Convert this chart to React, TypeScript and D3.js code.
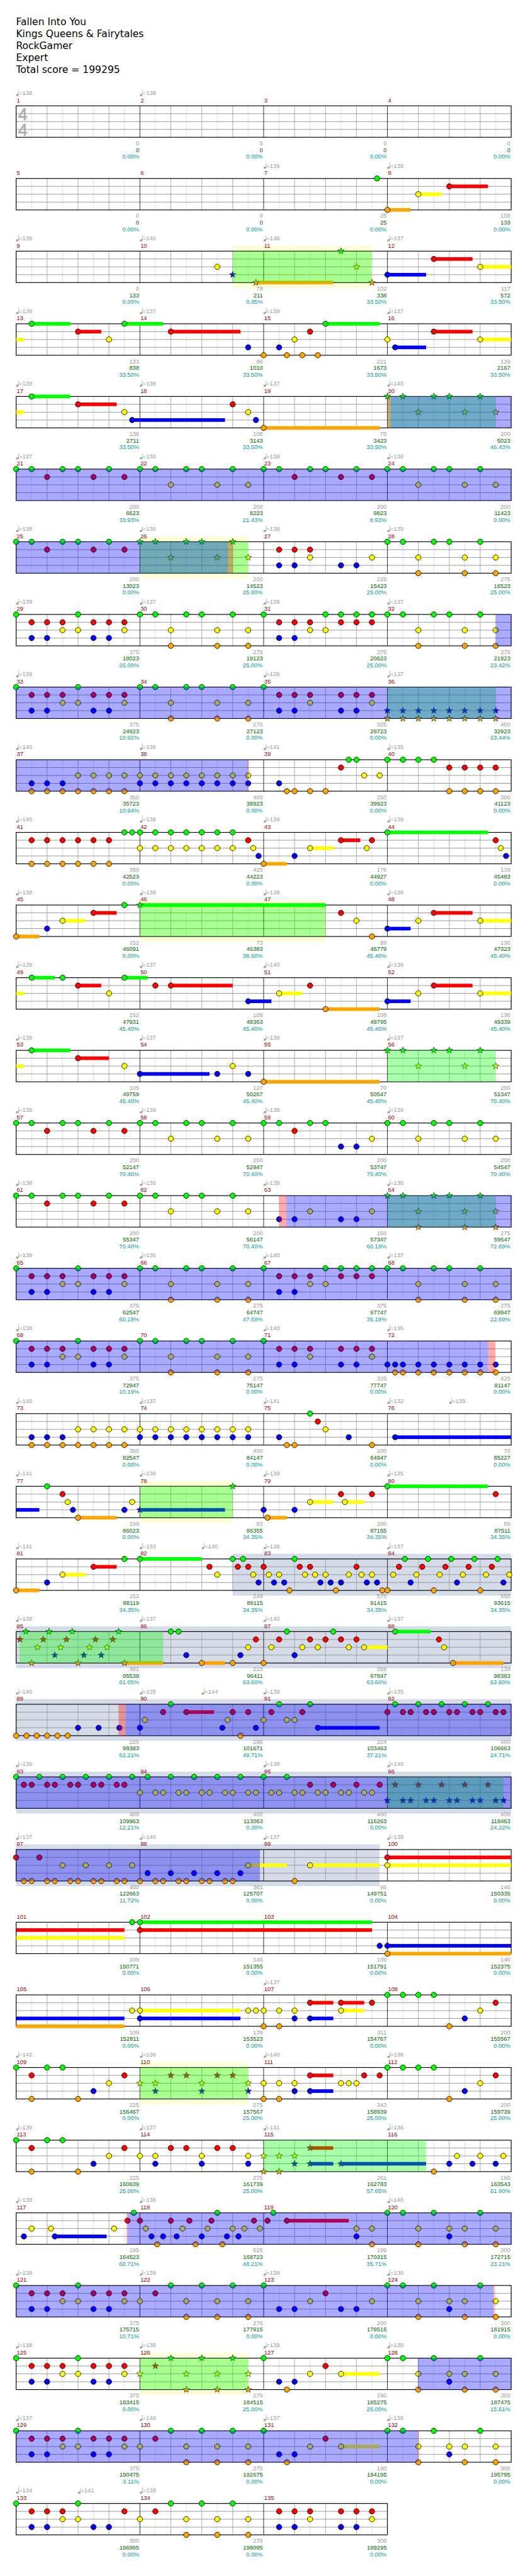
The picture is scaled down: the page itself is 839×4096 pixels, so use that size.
import React from "react";
import * as d3 from "d3";

const headerLines = ["Fallen Into You", "Kings Queens & Fairytales", "RockGamer", "Expert", "Total score = 199295"];

// [measure, eighth within measure, bpm]
const tempoMarks: [number, number, number][] = [
  [1, 0, 138], [2, 0, 138], [7, 0, 139], [8, 0, 139],
  [9, 0, 139], [10, 0, 140], [11, 0, 136], [12, 0, 137],
  [13, 0, 139], [14, 0, 137], [15, 0, 139], [16, 0, 137],
  [17, 0, 139], [18, 0, 138], [19, 0, 137], [20, 0, 140],
  [21, 0, 137], [22, 0, 138], [23, 0, 138], [24, 0, 138],
  [25, 0, 138], [26, 0, 136], [27, 0, 138], [28, 0, 139],
  [29, 0, 139], [30, 0, 137], [31, 0, 139], [32, 0, 137],
  [33, 0, 139], [35, 0, 138], [36, 0, 137],
  [37, 0, 140], [38, 0, 136], [39, 0, 141], [40, 0, 135],
  [41, 0, 140], [42, 0, 136], [43, 0, 139], [44, 0, 139],
  [45, 0, 138], [46, 0, 138], [47, 0, 138], [48, 0, 136],
  [49, 0, 139], [50, 0, 137], [51, 0, 140], [52, 0, 136],
  [53, 0, 139], [54, 0, 137], [55, 0, 139], [56, 0, 137],
  [57, 0, 138], [58, 0, 139], [59, 0, 138], [60, 0, 139],
  [61, 0, 138], [62, 0, 136], [63, 0, 139], [64, 0, 136],
  [65, 0, 139], [66, 0, 136], [67, 0, 140], [68, 0, 137],
  [69, 0, 138], [71, 0, 140], [72, 0, 136],
  [73, 0, 140], [74, 0, 137], [75, 0, 141], [76, 0, 132], [76, 4, 139],
  [77, 0, 141], [78, 0, 136], [79, 0, 139], [80, 0, 135],
  [81, 0, 141], [82, 0, 133], [82, 4, 140], [83, 0, 138], [84, 0, 137],
  [85, 0, 139], [86, 0, 137], [87, 0, 140], [88, 0, 137],
  [89, 0, 140], [90, 0, 135], [90, 4, 144], [91, 0, 139], [92, 0, 135],
  [93, 0, 138], [95, 0, 138], [96, 0, 140],
  [97, 0, 137], [98, 0, 140], [99, 0, 137], [100, 0, 138],
  [107, 0, 137],
  [109, 0, 142], [110, 0, 136], [111, 0, 140], [112, 0, 136],
  [113, 0, 139], [114, 0, 137], [115, 0, 141], [116, 0, 136],
  [117, 0, 139], [118, 0, 136], [120, 0, 140],
  [121, 0, 138], [122, 0, 139], [123, 0, 138], [124, 0, 136],
  [125, 0, 138], [126, 0, 138], [127, 0, 139], [128, 0, 138],
  [129, 0, 137], [130, 0, 140], [131, 0, 137], [132, 0, 139],
  [133, 0, 134], [133, 4, 141], [134, 0, 139],
];

const measureScores = [
  0, 0, 0, 0, 0, 0, 25, 108, 0, 78, 102, 117, 133, 86, 221, 139,
  136, 108, 70, 200, 200, 200, 200, 200, 200, 200, 225, 275, 375, 275, 375, 275,
  375, 275, 325, 400, 350, 400, 250, 300, 350, 425, 176, 139, 152, 73, 99, 136,
  152, 108, 108, 136, 105, 127, 70, 200, 200, 200, 200, 200, 200, 200, 150, 275,
  375, 275, 375, 275, 375, 275, 325, 425, 350, 400, 200, 70, 199, 83, 200, 89,
  152, 249, 575, 550, 481, 218, 359, 134, 225, 286, 224, 400, 400, 400, 400, 400,
  400, 381, 86, 146, 109, 146, 109, 146, 109, 178, 311, 200, 225, 275, 343, 200,
  225, 275, 261, 190, 195, 525, 199, 300, 375, 275, 200, 300, 375, 275, 190, 300,
  375, 275, 190, 300, 300, 275, 300,
];

const runningTotals = [
  0, 0, 0, 0, 0, 0, 25, 133, 133, 211, 338, 572, 838, 1010, 1673, 2167,
  2711, 3143, 3423, 5023, 6623, 8223, 9823, 11423, 13023, 14523, 15423, 16523, 18023, 19123, 20623, 21923,
  24923, 27123, 29723, 32923, 35723, 38923, 39923, 41123, 42523, 44223, 44927, 45483, 46091, 46383, 46779, 47323,
  47931, 48363, 48795, 49339, 49759, 50267, 50547, 51347, 52147, 52947, 53747, 54547, 55347, 56147, 57347, 59547,
  62547, 64747, 67747, 69947, 72947, 75147, 77747, 81147, 82547, 84147, 84947, 85227, 86023, 86355, 87155, 87511,
  88119, 89115, 91415, 93615, 95539, 96411, 97847, 98383, 99383, 101671, 103463, 106663, 109963, 113063, 116263, 119463,
  122663, 125707, 149751, 150335, 150771, 151355, 151791, 152375, 152811, 153523, 154767, 155567, 156467, 157567, 158939, 159739,
  160639, 161739, 162783, 163543, 164523, 168723, 170315, 172715, 175715, 177915, 179515, 181915, 183415, 184515, 185275, 187475,
  190475, 192675, 194195, 195795, 196995, 198095, 199295,
];

const spMeter = [
  0, 0, 0, 0, 0, 0, 0, 0, 0, 0.85, 33.5, 33.5, 33.5, 33.5, 33.5, 33.5,
  33.5, 33.5, 33.5, 46.43, 33.93, 21.43, 8.93, 0, 0, 25, 25, 25, 25, 25, 25, 23.42,
  10.92, 0, 0, 23.44, 10.94, 0, 0, 0, 0, 0, 0, 0, 0, 38.6, 45.4, 45.4,
  45.4, 45.4, 45.4, 45.4, 45.4, 45.4, 45.4, 70.4, 70.4, 70.4, 70.4, 70.4, 70.4, 70.4, 60.19, 72.69,
  60.19, 47.69, 35.19, 22.69, 10.19, 0, 0, 0, 0, 0, 0, 0, 0, 34.35, 34.35, 34.35,
  34.35, 34.35, 34.35, 34.35, 61.05, 63.6, 63.6, 63.6, 62.21, 49.71, 37.21, 24.71, 12.21, 0, 0, 24.22,
  11.72, 0, 0, 0, 0, 0, 0, 0, 0, 0, 0, 0, 0, 25, 25, 25,
  25, 25, 57.65, 61.9, 60.71, 48.21, 35.71, 23.21, 10.71, 0, 0, 0, 0, 25, 25, 15.61,
  3.11, 0, 0, 0, 0, 0, 0,
];

// repeated riffs (lane letter + eighth, "-end" = sustain end in eighths from measure start)
const riffA = "G0 R1 B1 R2 B2 R3 Y3 G4 Y4 R5 B5 R6 B6 R7 Y7";
const riffB = "G0 G1 Y2 O2 G3 G4 Y5 O5 G6 Y7 O7";
const riffC = "G0 R1 B1 R2 B2 R3 Y3 R5 B5 R6 B6 R7 Y7";
const riffD = "G0 G1 R2 G3 G4 R5 G6 R7";
const riffE = "G0 G1 Y2 G3 G4 Y5 G6 Y7";
const riffF = "G0 G1 Y2 O2 G3 Y4 B4 Y5 O5 G6 Y7 O7";
const riffG = "Y0 R1 G2 Y3 O3 G4 Y5 O5 G6 Y7 O7";
const riffH = "G0 B1 O1.5 B2 Y3 R4 Y5-7.5";
const riffI = "G0 G1 G2 G3 O4 B5 Y6 R7";
const riffJ = "G0 R1 O1 G2 G3 O4 B5 Y6 R7";
const riffK = "Y0 Y1 B1 R2 R3 Y4 B4 R5 R6 Y7 B7";
const riffL = "B1 O1 B2 O2 B3 O3 Y4 O4 Y5 O5 Y6 O6 Y7 O7";
const riffM = "Y0 B0 Y1 B1 Y2 B2 Y3 B3 Y4 B4 Y5 B5 Y6 B6 Y7 B7";
const riffN = "G0 R1 B1 R2 B2 R3 Y3 G4 Y4 G5 R5 G6 R6 G7 R7";

const measureNotes: string[] = [
  "", "", "", "",
  "", "", "G7.33", "O0-1.5 Y2-3.5 R4-6.5",
  "", "Y5 B6 O7.5-12.5", "G5 Y6 O7", "B0-2.5 R3-5.5 Y6-8.5",
  "G1-3.5 R4-5.5 Y6 G7-9.5", "R2-6.5 B7", "O0 B1 O1.5 Y2 O2.5 R3 O3.5 G4-7.5", "Y0 B0.5-2.5 R3-5.5 Y6-8.5",
  "G1-3.5 R4-6.5 Y7 B7.5-13.5", "R6 Y7 B7.5", "O0-7.5", riffE,
  riffD, riffE, riffD, riffE,
  riffD, riffE, "R1 B1 R2 B2 R3 Y3 B5 B6 Y7", riffB,
  riffA, riffB, riffN, riffB,
  riffA, riffB, riffC, "B0 O0 B1 O1 B2 O2 B3 O3 B4 O4 B5 O5 B6 O6 B7 O7",
  riffL, riffM, "B1 O1.5 O2 O3 O4 R5 G5.5 G6 Y6.5 Y7.5", "G0 G1 G2 G3 R4 O4 R5 O5 R6 O6 R7 O7",
  "R1 O1 R2 O2 R3 O3 R4 O4 R5 O5 R6 O6 G7 G7.5", "G0 Y0 G1 Y1 G2 Y2 G3 Y3 G4 Y4 G5 Y5 G6 Y6 R7 Y7.33 B7.67",
  "O0-1.5 B2 Y3-4.5 R5-6.25 Y6.67 R7", "G0-6.5 R7 Y7.33 B7.67",
  "O0-1.5 B2 Y3-4.5 R5-6.5 G7", "G0-12", "R5 Y6 O7", "B0-1.5 Y2 R3-5.5 Y6-8.5",
  "G1-2.5 G3 R4-5.5 Y6 G7-8.5", "R1 R2-6 B7-8.5", "Y1-2.5 R3 O4-7.5", "B0-1.5 Y2 R3-5.5 Y6-8.5",
  "G1-3.5 R4-6 Y7", "B0-4.5 B5 Y6 B7", "O0-7.5", riffE,
  riffD, riffE, "G0 G1 R2 G3 G4 B5 B6 Y7", riffE,
  riffD, riffE, "B1 B2 Y3 B5 B6 Y7", riffB,
  riffA, riffB, riffN, riffB,
  riffA, riffB, riffC, "B0 B0.5 O0.5 B1 O1 B2 O2 B3 O3 B4 O4 B5 O5 B6 O6 B7 O7",
  riffL, riffM, "B1 O1.5 O2 G3 R3.5 Y4 B5.5 O7", "B0.5-9.5",
  "G2 R3 Y3.33 B3.67 O4-6.5 B7 Y7.5", "B0-5.5 G6", "B0 O0.25-1.5 B2 Y3-4.5 R5 Y5.25-6.5 R7", "G0-6.5 R7",
  "O0-1.5 B2 Y3-4.5 R5-6.5 G7", "G0-4 R4.5 Y5 G6 R6.33 G6.67 R7 Y7.33 B7.67",
  "R0 Y0.33 B0.67 Y1 B1.33 O1.67 G2 R2.33 Y2.67 R3 Y3.33 B3.67 Y4 B4.33 O4.67 B5 Y5.5 R6 Y6.33 B6.67 Y7 B7.33 O7.67",
  "O0 Y0.375 R0.75 G1.125 B1.5 Y1.875 R2.25 G2.625 O3 Y3.375 R3.75 G4.125 B4.5 Y4.875 R5.25 G5.625 O6 Y6.375 R6.75 G7.125 B7.5 Y7.875",
  "R0.25 G0.625 O1 Y1.375 R1.75 G2.125 B2.5 Y2.875 R3.25 G3.625 O4 B4.375 Y4.75 R5.125 B5.5 Y5.875 R6.25 G6.625 O7-9.5",
  "G2 G2.5 B3 O4-5.5 O6 B6.5 Y7 R7.5",
  "O0 Y0.5 R1 G1.5 B2 Y2.5 R3 Y3.5 R4 G4.5 R5 Y5.5 R6 Y6.5-8",
  "G0.5-2.8 R3.33 Y3.67 O4.25-7.5",
  "O0 O0.67 O1.33 O2 O2.67 O3.33 B4 B5.33 B6.67",
  "B0 Y0.33 R1.5 G2 R3-4.8 B5.33 Y5.67 R6 O6.5 R7 B7.5",
  "Y0 R0.5 G1 Y1.5 Y2 R2.5 G3 B3.5-7.5",
  "R0 G0.5 R1 R1.5 G2 R2.5 R3 G3.5 R4 R4.5 G5 R5.5 R6 G6.5 R7 R7.5",
  "G0 R0.5 R1 G1.5 R2 R2.5 G3 R3.5 R4 G4.5 R5 R5.5 G6 R6.5 R7 G7.5",
  "Y0 G0.5 Y1 Y1.5 G2 Y2.5 Y3 G3.5 Y4 Y4.5 G5 Y5.5 Y6 G6.5 Y7 Y7.5",
  "G0 Y0.5 Y1 G1.5 Y2 Y2.5 R3 Y3.5 Y4 R4.5 Y5 Y5.5 R6 Y6.5 Y7 R7.5",
  "B0 R0.5 B1 B1.5 R2 B2.5 B3 R3.5 B4 B4.5 R5 B5.5 B6 R6.5 B7 B7.5",
  "R0 O0.5 O1 R1.5 O2 O2.5 Y3 O3.5 O4 Y4.5 O5 O5.5 Y6 O6.5 O7 Y7.5",
  "O0 B0.5 O1 O1.5 B2 O2.5 O3 B3.5 O4 O4.5 B5 O5.5 O6 B6.5 Y7-9.5",
  "O2 Y3-7.5", "R0-15 Y0-15",
  "G7.5", "G0-15 R0-15", "B7.5", "B0-15 O0-15",
  "Y7.5", "Y0-6.5 B0-6.5 Y7 Y7.5", "Y0 O0 Y1 O1 Y2 B2 R3-4.5 B3-4.5 R5-6.5 Y5-6.5 R7", riffI,
  riffJ, riffK, "Y0 O0 Y1 O1 Y2 B2 R3-4.5 B3-4.5 Y5 Y5.5 Y6 R6.5 R7.5", riffI,
  riffJ, riffK, "Y0 O0 Y1 O1 Y2 B2 R3-4.5 B3-4.5 B5-10.5", "O3 B4 Y4.5 B5.5 Y6 B7 Y7.5",
  "B0.5 Y1 Y2.25 B2.5-5.85 Y6.33 R7.2 G7.6",
  "R0 Y0.375 B0.75 O1.125 B1.5 R2 B2.375 Y2.75 R3.2 O3.6 B4 Y4.375 R4.625 G5 O5.33 B5.625 Y6 B6.375 Y6.75 R7.375 Y7.75",
  "R0.25 G0.625 R1.5-5.5 Y6 B6 Y7 O7", riffF,
  riffA, riffG, "G0 B1 B2 Y3 R4 B5 B6 Y7", riffF,
  riffA, riffG, riffH, riffF,
  riffA, riffG, riffH, riffF,
  "G0 R1 B1 R2 B2 R3 Y3 G4 Y4 B5 B6 R7", riffG, "R1 B1 R2 B2 R3 Y3 R5 B5 R6 B6 R7 Y7",
];

// ranges: [measure, eighth, measure, eighth]
const starPhrases: number[][] = [
  [10, 6, 11, 7], [20, 0, 20, 7], [26, 0, 26, 7], [36, 0, 36, 7], [46, 0, 47, 4], [56, 0, 56, 7],
  [64, 0, 64, 7], [78, 0, 78, 6], [85, 0.22, 86, 1.5], [96, 0, 96, 7.5], [110, 0, 110, 7],
  [115, 0, 116, 2.5], [126, 0, 126, 7],
];
const phraseBoxes: number[][] = [
  [10, 6, 11, 7], [26, 0, 26, 7], [46, 0, 47, 4], [78, 0, 78, 6], [110, 0, 110, 7], [126, 0, 126, 7],
];
const overdrive: number[][] = [
  [20, 0.2, 26, 5.7], [32, 7, 38, 7], [63, 1.46, 72, 6.52], [89, 7.07, 98, 7.76],
  [117, 7.2, 124, 6.85], [128, 1.97, 132, 1.97],
];
const activationMarks: number[][] = [
  [20, 0, 20, 0.2], [26, 5.7, 26, 6], [38, 6.97, 38, 7.03], [63, 1, 63, 1.46], [72, 6.52, 72, 6.97],
  [89, 6.62, 89, 7.07], [117, 7.14, 117, 7.2], [124, 6.85, 124, 6.92], [132, 1.97, 132, 2.03],
];
const soloSections: number[][] = [[82, 6, 99, 7.5]];

const LANE_COLORS = ["#00ff00", "#ff0000", "#ffff00", "#0000ff", "#ffa500"];
const LANE_OF: Record<string, number> = { G: 0, R: 1, Y: 2, B: 3, O: 4 };

const X0 = 31.33;
const MEASURE_W = 240;
const STAFF_H = 61;
const SMALL = "'Liberation Sans', Arial, sans-serif";

const x = d3.scaleLinear().domain([0, 32]).range([X0, X0 + 4 * MEASURE_W]);
const rowTop = d3.scaleLinear().domain([0, 1]).range([205.3, 346.3]);
const laneY = d3.scaleLinear().domain([0, 4]).range([0, STAFF_H]);

const absPos = (m: number, p: number) => (m - 1) * 8 + p;

function rowSegments(a: number, b: number) {
  const out: { r: number; x1: number; x2: number }[] = [];
  let s = a;
  while (s < b - 1e-6) {
    const r = Math.floor(s / 32 + 1e-9);
    const e = Math.min(b, (r + 1) * 32);
    out.push({ r, x1: x(s - r * 32), x2: x(e - r * 32) });
    s = e;
  }
  return out;
}

function starPath(cx: number, cy: number, R = 6.6, r = 2.7) {
  const pts = d3.range(10).map((i) => {
    const a = -Math.PI / 2 + (i * Math.PI) / 5;
    const rad = i % 2 === 0 ? R : r;
    return [cx + rad * Math.cos(a), cy + rad * Math.sin(a)] as [number, number];
  });
  return d3.line()(pts) + "Z";
}

export default function App() {
  const nMeasures = measureNotes.length;
  const nRows = Math.ceil(nMeasures / 4);
  const rows = d3.range(nRows);
  const rowLen = (r: number) => Math.min(4, nMeasures - 4 * r) * 8;

  const spAbs = starPhrases.map(([m1, p1, m2, p2]) => [absPos(m1, p1), absPos(m2, p2)]);
  const notes = measureNotes.flatMap((s, i) =>
    s.split(/\s+/).filter(Boolean).map((tok) => {
      const [p, e] = tok.slice(1).split("-").map(Number);
      const a = i * 8 + p;
      return {
        lane: LANE_OF[tok[0]],
        abs: a,
        end: e === undefined ? null : i * 8 + e,
        star: spAbs.some(([s0, s1]) => a >= s0 - 0.01 && a <= s1 + 0.01),
      };
    })
  );

  const bandRects = (ranges: number[][], y0: number, y1: number, fill: string, op: number, key: string) =>
    ranges.flatMap(([m1, p1, m2, p2], i) =>
      rowSegments(absPos(m1, p1), absPos(m2, p2)).map((sg, j) => (
        <rect key={`${key}${i}-${j}`} x={sg.x1} y={rowTop(sg.r) + y0} width={sg.x2 - sg.x1}
          height={y1 - y0} fill={fill} fillOpacity={op} />
      ))
    );

  return (
    <svg width={839} height={4096} viewBox="0 0 1024 4999"
      style={{ position: "absolute", left: 0, top: 0, display: "block" }}>
      <rect width={1024} height={4999} fill="#ffffff" />

      {headerLines.map((t, i) => (
        <text key={t} x={31} y={49 + i * 23} fontFamily="'DejaVu Sans', Verdana, sans-serif" fontSize={19} fill="#000">{t}</text>
      ))}

      {/* background boxes */}
      {bandRects(soloSections, -10, STAFF_H + 10, "#d5dbe8", 1, "solo")}
      {bandRects(phraseBoxes, -10, STAFF_H + 10, "#ffffd6", 1, "pb")}

      {/* staves */}
      {rows.map((r) => {
        const T = rowTop(r);
        const len = rowLen(r);
        const ks = d3.range(1, len);
        const eighth = ks.filter((k) => k % 2 === 1);
        const quarter = ks.filter((k) => k % 2 === 0 && k % 8 !== 0);
        const bars = ks.filter((k) => k % 8 === 0);
        return (
          <g key={`row${r}`}>
            {eighth.map((k) => <line key={`e${k}`} x1={x(k)} x2={x(k)} y1={T} y2={T + STAFF_H} stroke="#dddddd" strokeWidth={1} />)}
            {quarter.map((k) => <line key={`q${k}`} x1={x(k)} x2={x(k)} y1={T} y2={T + STAFF_H} stroke="#999999" strokeWidth={1} />)}
            {[1, 2, 3].map((l) => <line key={`l${l}`} x1={x(0)} x2={x(len)} y1={T + laneY(l)} y2={T + laneY(l)} stroke="#999999" strokeWidth={1.2} />)}
            {bars.map((k) => <line key={`b${k}`} x1={x(k)} x2={x(k)} y1={T} y2={T + STAFF_H} stroke="#000" strokeWidth={1} />)}
            <rect x={x(0)} y={T} width={x(len) - x(0)} height={STAFF_H} fill="none" stroke="#000" strokeWidth={1.4} />
          </g>
        );
      })}

      {/* time signature */}
      <g fontFamily={SMALL} fontSize={33} fill="#b4b4b4" stroke="#999" strokeWidth={0.6}>
        <text x={35} y={rowTop(0) + 28}>4</text>
        <text x={35} y={rowTop(0) + 58}>4</text>
      </g>

      {/* sustains */}
      {notes.filter((n) => n.end !== null).flatMap((n, i) =>
        rowSegments(n.abs, n.end as number).map((sg, j) => (
          <rect key={`s${i}-${j}`} x={sg.x1} y={rowTop(sg.r) + laneY(n.lane) - 3.5} width={sg.x2 - sg.x1}
            height={7} fill={LANE_COLORS[n.lane]} />
        ))
      )}

      {/* gems */}
      {notes.map((n, i) => {
        const r = Math.floor(n.abs / 32 + 1e-9);
        const cx = x(n.abs - r * 32);
        const cy = rowTop(r) + laneY(n.lane);
        return n.star ? (
          <path key={`n${i}`} d={starPath(cx, cy)} fill={LANE_COLORS[n.lane]} stroke="#1a1a1a" strokeWidth={0.8} />
        ) : (
          <circle key={`n${i}`} cx={cx} cy={cy} r={5.2} fill={LANE_COLORS[n.lane]} stroke="#000" strokeWidth={1} />
        );
      })}

      {/* star power / overdrive overlays */}
      {bandRects(starPhrases, 0, STAFF_H, "#00ff00", 0.333, "sp")}
      {bandRects(overdrive, 0, STAFF_H, "#0000ff", 0.333, "od")}
      {bandRects(activationMarks, 0, STAFF_H, "#ff0000", 0.333, "act")}

      {/* tempo markers */}
      {tempoMarks.map(([m, p, bpm], i) => {
        const a = absPos(m, p);
        const r = Math.floor(a / 32);
        const px = x(a - r * 32);
        const T = rowTop(r);
        return (
          <g key={`t${i}`} fill="#a8a8a8">
            <ellipse cx={px + 2.3} cy={T - 21} rx={2.9} ry={2.2} transform={`rotate(-25 ${px + 2.3} ${T - 21})`} />
            <line x1={px + 4.9} x2={px + 4.9} y1={T - 21} y2={T - 31} stroke="#a8a8a8" strokeWidth={1} />
            <text x={px + 5.3} y={T - 21} fontFamily={SMALL} fontSize={11.5} fill="#999">={bpm}</text>
          </g>
        );
      })}

      {/* measure numbers and scores */}
      {d3.range(nMeasures).map((i) => {
        const r = Math.floor(i / 4);
        const T = rowTop(r);
        const xs = x((i % 4) * 8);
        const xe = x((i % 4) * 8 + 8) - 1.5;
        return (
          <g key={`m${i}`} fontFamily={SMALL} fontSize={11.5}>
            <text x={xs + 1} y={T - 7} fill="#990000">{i + 1}</text>
            <text x={xe} y={T + 76.5} textAnchor="end" fill="#999999">{measureScores[i]}</text>
            <text x={xe} y={T + 89.5} textAnchor="end" fill="#006600">{runningTotals[i]}</text>
            <text x={xe} y={T + 102.5} textAnchor="end" fill="#009999">{spMeter[i].toFixed(2)}%</text>
          </g>
        );
      })}
    </svg>
  );
}
